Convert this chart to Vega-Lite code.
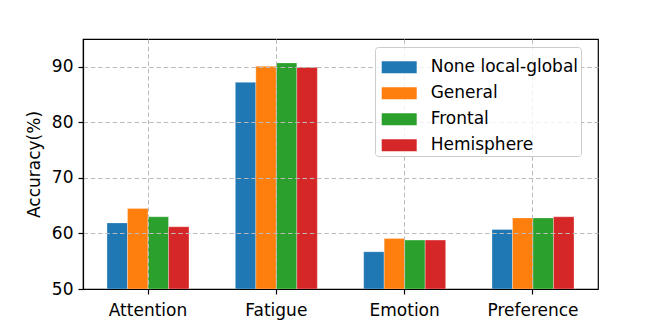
{
  "$schema": "https://vega.github.io/schema/vega-lite/v6.json",
  "autosize": {"type": "none"},
  "padding": {"left": 83, "top": 39, "right": 66, "bottom": 37},
  "width": 515,
  "height": 250,
  "background": "white",
  "data": {
    "values": [
      {"task": "Attention", "method": "None local-global", "acc": 61.9},
      {"task": "Attention", "method": "General", "acc": 64.5},
      {"task": "Attention", "method": "Frontal", "acc": 63.0},
      {"task": "Attention", "method": "Hemisphere", "acc": 61.2},
      {"task": "Fatigue", "method": "None local-global", "acc": 87.2},
      {"task": "Fatigue", "method": "General", "acc": 90.1},
      {"task": "Fatigue", "method": "Frontal", "acc": 90.7},
      {"task": "Fatigue", "method": "Hemisphere", "acc": 89.9},
      {"task": "Emotion", "method": "None local-global", "acc": 56.7},
      {"task": "Emotion", "method": "General", "acc": 59.1},
      {"task": "Emotion", "method": "Frontal", "acc": 58.8},
      {"task": "Emotion", "method": "Hemisphere", "acc": 58.8},
      {"task": "Preference", "method": "None local-global", "acc": 60.7},
      {"task": "Preference", "method": "General", "acc": 62.8},
      {"task": "Preference", "method": "Frontal", "acc": 62.8},
      {"task": "Preference", "method": "Hemisphere", "acc": 63.0}
    ]
  },
  "mark": {"type": "bar", "stroke": "white", "strokeWidth": 0.5, "strokeOpacity": 0.6},
  "encoding": {
    "x": {
      "field": "task", "type": "nominal",
      "sort": ["Attention", "Fatigue", "Emotion", "Preference"],
      "scale": {"paddingInner": 0.361, "paddingOuter": 0.187},
      "axis": {"title": null, "labelAngle": 0, "zindex": 1, "labelPadding": 8}
    },
    "xOffset": {
      "field": "method", "type": "nominal",
      "sort": ["None local-global", "General", "Frontal", "Hemisphere"],
      "scale": {"paddingInner": 0, "paddingOuter": 0}
    },
    "y": {
      "field": "acc", "type": "quantitative",
      "scale": {"domain": [50, 95], "nice": false, "zero": false},
      "axis": {"title": "Accuracy(%)", "values": [50, 60, 70, 80, 90], "zindex": 1}
    },
    "y2": {"datum": 50},
    "color": {
      "field": "method", "type": "nominal",
      "scale": {
        "domain": ["None local-global", "General", "Frontal", "Hemisphere"],
        "range": ["#1f77b4", "#ff7f0e", "#2ca02c", "#d62728"]
      },
      "legend": {
        "title": null,
        "orient": "none",
        "legendX": 292,
        "legendY": 8,
        "zindex": 2,
        "symbolType": "M-1,-0.34L1,-0.34L1,0.34L-1,0.34Z",
        "symbolSize": 1225,
        "symbolStrokeWidth": 0,
        "symbolOpacity": 1,
        "symbolOffset": 4,
        "labelOffset": 14,
        "labelFont": "DejaVu Sans",
        "labelFontSize": 17,
        "labelColor": "black",
        "rowPadding": -0.3,
        "padding": 2.7,
        "fillColor": "rgba(255,255,255,0.8)",
        "strokeColor": "#cccccc",
        "cornerRadius": 3
      }
    }
  },
  "config": {
    "view": {"stroke": "black", "strokeWidth": 1.2},
    "axis": {
      "labelFont": "DejaVu Sans",
      "labelFontSize": 17,
      "labelColor": "black",
      "titleFont": "DejaVu Sans",
      "titleFontSize": 17,
      "titleFontWeight": "normal",
      "titleColor": "black",
      "domainColor": "black",
      "domainWidth": 1.2,
      "tickColor": "black",
      "tickSize": 5,
      "tickWidth": 1.2,
      "labelPadding": 5,
      "titlePadding": 8,
      "grid": true,
      "gridColor": "#bbbbbb",
      "gridDash": [4.5, 2.8],
      "gridWidth": 1
    }
  }
}
